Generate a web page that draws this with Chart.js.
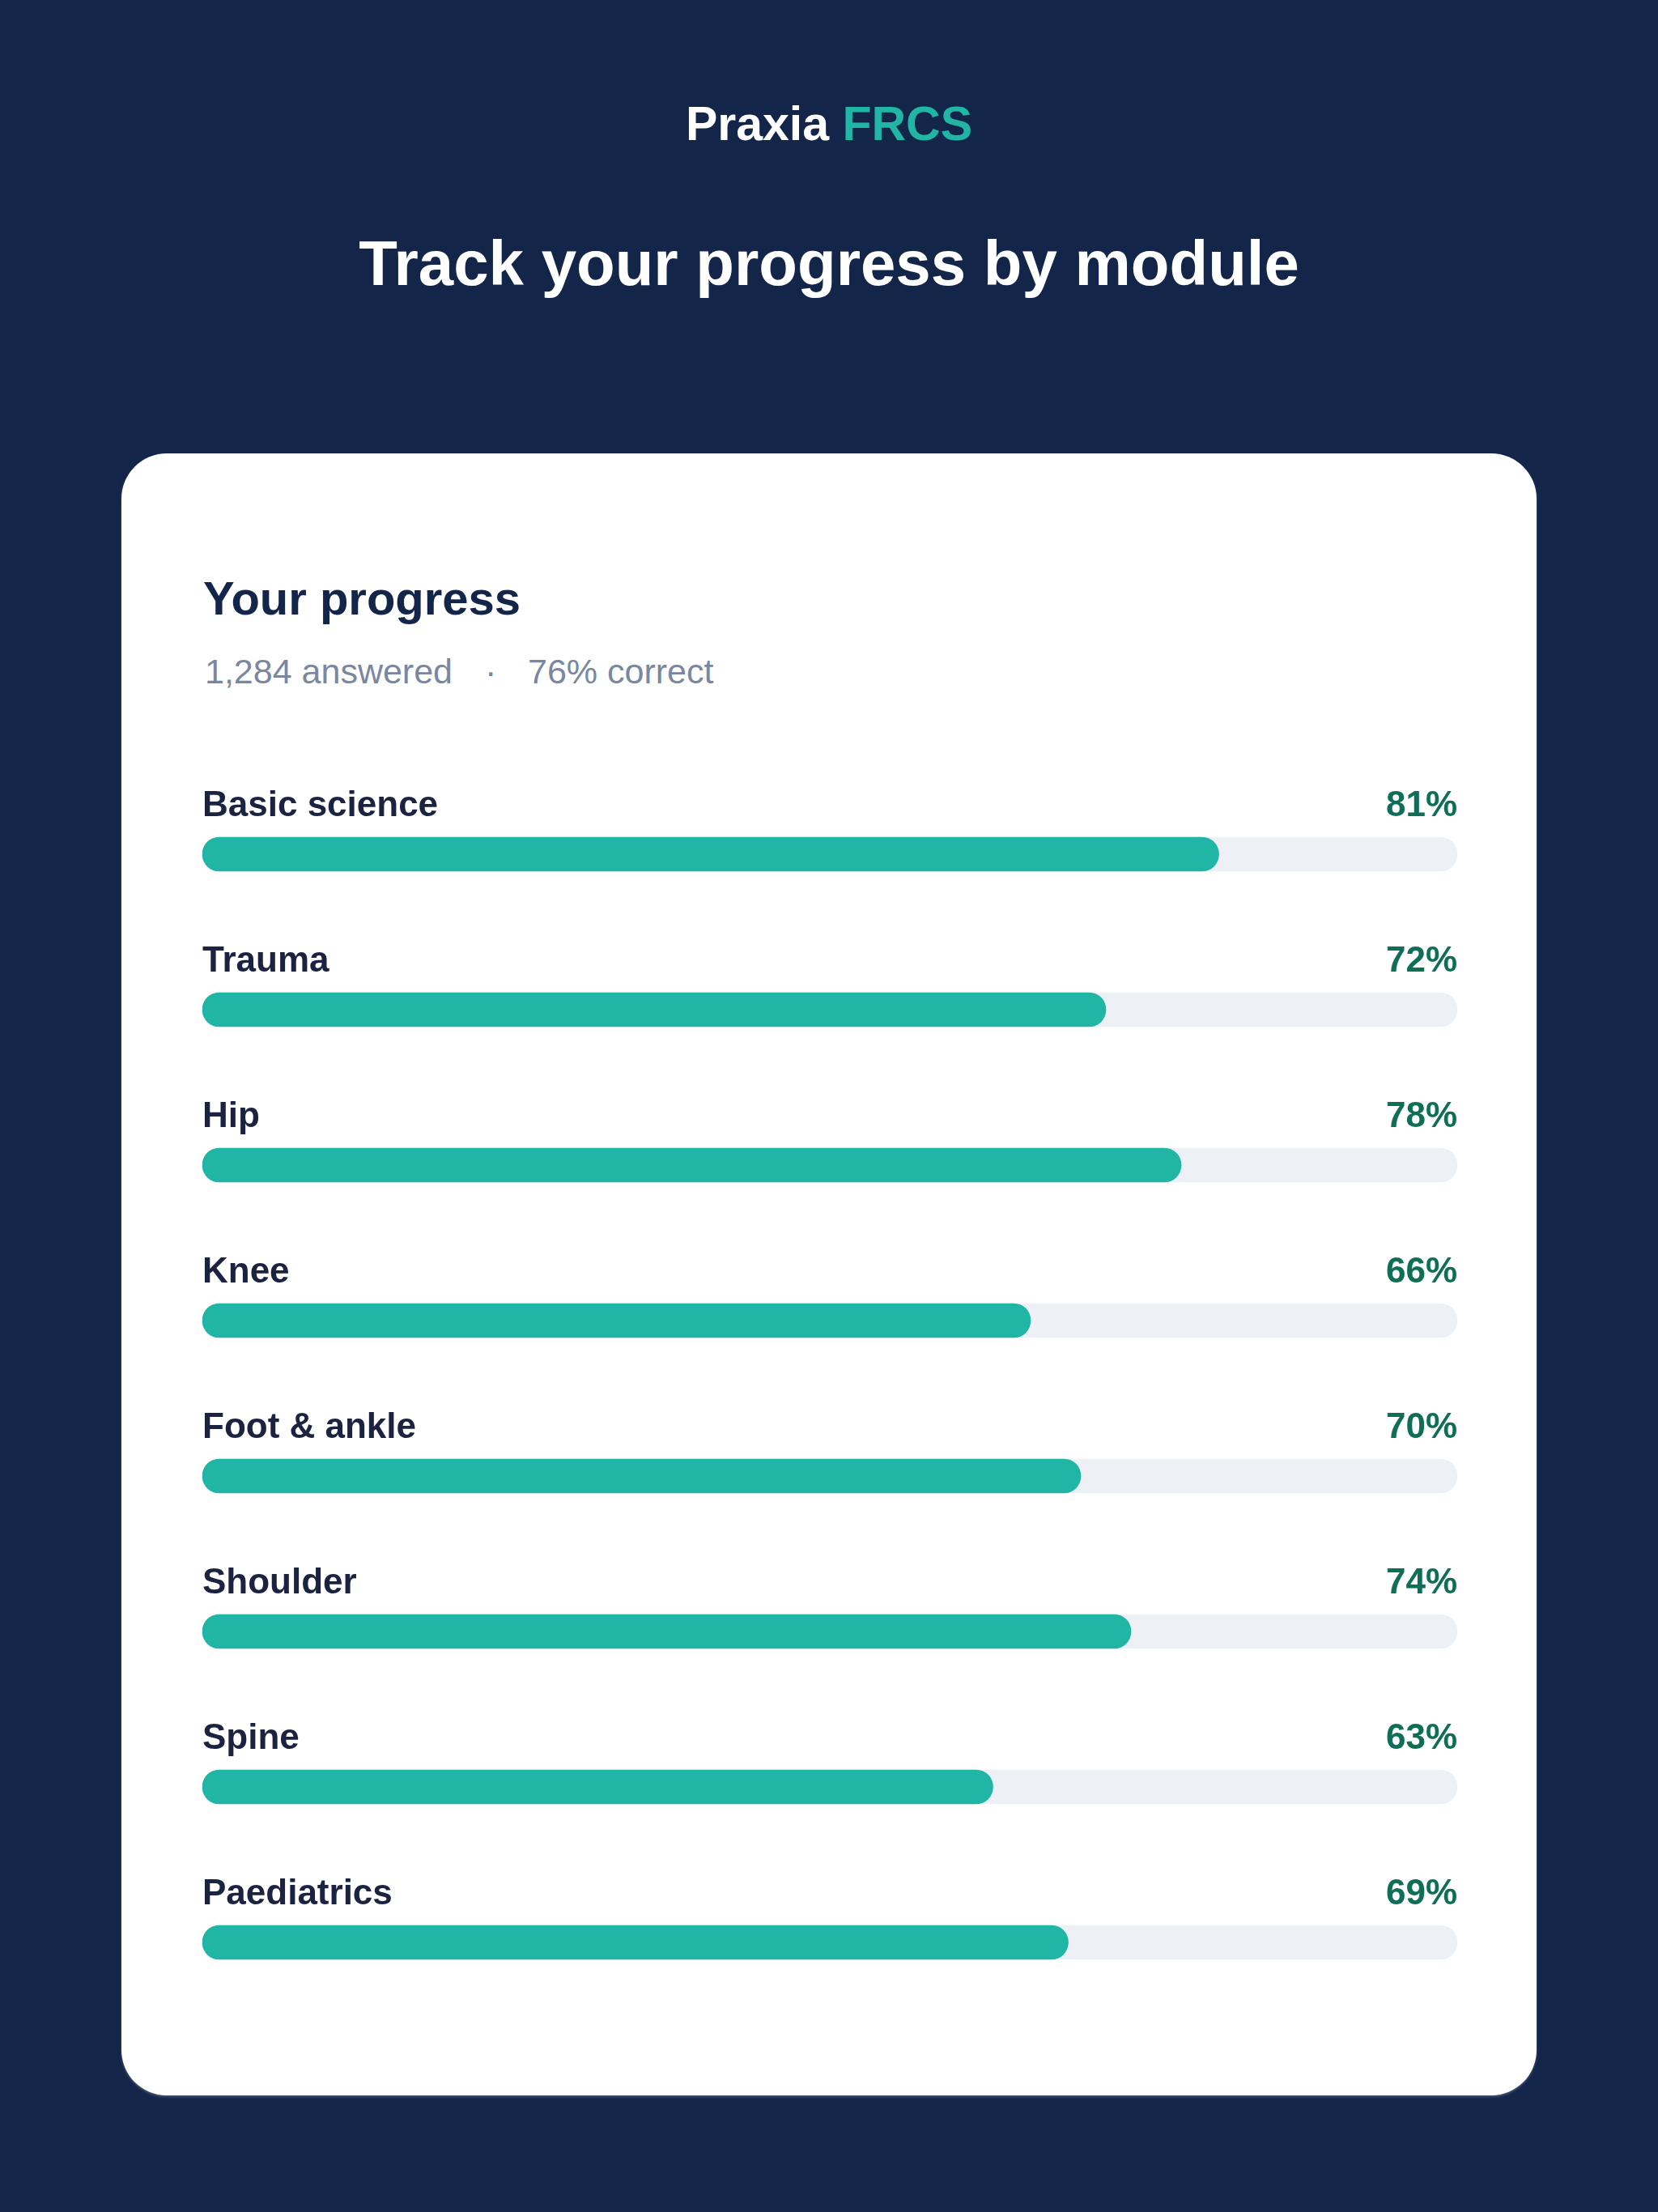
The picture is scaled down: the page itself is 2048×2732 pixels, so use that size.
<!DOCTYPE html>
<html>
<head>
<meta charset="utf-8">
<script src="https://cdn.jsdelivr.net/npm/chart.js@4.4.1/dist/chart.umd.min.js"></script>
<style>
  html, body { margin: 0; padding: 0; }
  body { width: 2048px; height: 2732px; background: #14254a; position: relative; overflow: hidden;
         font-family: "Liberation Sans", Arial, Helvetica, sans-serif; }
  .abs { position: absolute; white-space: nowrap; line-height: 1; }
  #brand { left: 0; width: 2048px; text-align: center; top: 124px; font-size: 59px; font-weight: bold; color: #ffffff; }
  #brand span { color: #20b5a5; }
  #title { left: 0; width: 2048px; text-align: center; top: 286px; font-size: 78px; font-weight: bold; color: #ffffff; }
  #card { position: absolute; left: 150px; top: 560px; width: 1748px; height: 2028px; background: #ffffff;
          border-radius: 56px; box-shadow: 0 2px 3px rgba(120,130,160,0.5); }
  #cardTitle { left: 251px; top: 710px; font-size: 58px; font-weight: bold; color: #14254a; }
  .sub { top: 808px; font-size: 43px; color: #7a87a1; }
  #chartWrap { position: absolute; left: 250px; top: 959px; width: 1550px; height: 1536px; }
</style>
</head>
<body>
<div id="brand" class="abs">Praxia <span>FRCS</span></div>
<div id="title" class="abs">Track your progress by module</div>
<div id="card"></div>
<div id="cardTitle" class="abs">Your progress</div>
<div class="abs sub" style="left:253px">1,284 answered</div>
<div class="abs sub" style="left:599px">·</div>
<div class="abs sub" style="left:652px">76% correct</div>
<div id="chartWrap"><canvas id="c" width="1550" height="1536"></canvas></div>
<script>
const modules = ["Basic science", "Trauma", "Hip", "Knee", "Foot & ankle", "Shoulder", "Spine", "Paediatrics"];
const percentCorrect = [81, 72, 78, 66, 70, 74, 63, 69];
const trackValues = [100, 100, 100, 100, 100, 100, 100, 100];

const rowLabels = {
  id: 'rowLabels',
  afterDatasetsDraw(chart) {
    const ctx = chart.ctx;
    const yScale = chart.scales.y;
    const area = chart.chartArea;
    ctx.save();
    ctx.textBaseline = 'alphabetic';
    ctx.font = 'bold 44px "Liberation Sans", Arial, sans-serif';
    modules.forEach((m, i) => {
      const y = yScale.getPixelForValue(i);
      ctx.fillStyle = '#1b2340';
      ctx.textAlign = 'left';
      ctx.fillText(m, area.left, y - 47);
      ctx.fillStyle = '#0f6e56';
      ctx.textAlign = 'right';
      ctx.fillText(percentCorrect[i] + '%', area.right, y - 47);
    });
    ctx.restore();
  }
};

new Chart(document.getElementById('c'), {
  type: 'bar',
  data: {
    labels: modules,
    datasets: [
      { label: 'Correct', data: percentCorrect, backgroundColor: '#20b5a5', borderRadius: 21,
        borderSkipped: false, barThickness: 42, grouped: false, order: 0 },
      { label: 'Track', data: trackValues, backgroundColor: '#edf1f5', borderRadius: 21,
        borderSkipped: false, barThickness: 42, grouped: false, order: 1 }
    ]
  },
  options: {
    indexAxis: 'y',
    responsive: false,
    animation: false,
    maintainAspectRatio: false,
    layout: { padding: 0 },
    plugins: { legend: { display: false }, tooltip: { enabled: false } },
    scales: {
      x: { display: false, min: 0, max: 100 },
      y: { display: false }
    }
  },
  plugins: [rowLabels]
});
</script>
</body>
</html>
